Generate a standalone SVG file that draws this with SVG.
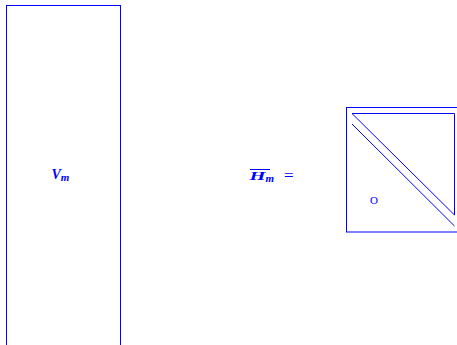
<svg xmlns="http://www.w3.org/2000/svg" width="457" height="345" viewBox="0 0 457 345">
<style>
.ln{fill:none;stroke:#0000ff;stroke-width:1}
.t{fill:#0000ff;font-family:"Liberation Serif",serif}
.bi{font-weight:bold;font-style:italic}
</style>
<rect width="457" height="345" fill="#fff"/>
<g id="Vm">
<rect class="ln" x="6.5" y="5.5" width="114" height="345"/>
<text class="t bi" x="51.5" y="179" font-size="14">V<tspan font-size="11" dy="1.5">m</tspan></text>
</g>
<g id="Hm">
<text class="t bi" x="249.5" y="180" font-size="13.5" textLength="16" lengthAdjust="spacingAndGlyphs">H</text>
<text class="t bi" x="265.5" y="181.5" font-size="11">m</text>
<line class="ln" x1="250" y1="169.5" x2="270" y2="169.5"/>
<text class="t" x="284" y="181" font-size="17">=</text>
</g>
<g id="matrix">
<rect class="ln" x="346.5" y="107.5" width="120" height="124.5"/>
<path class="ln" d="M352 113.5 H454.5 V215 Z"/>
<line class="ln" x1="352" y1="124" x2="454.5" y2="226"/>
<text class="t" x="374" y="203.5" font-size="11" text-anchor="middle">O</text>
</g>
</svg>
